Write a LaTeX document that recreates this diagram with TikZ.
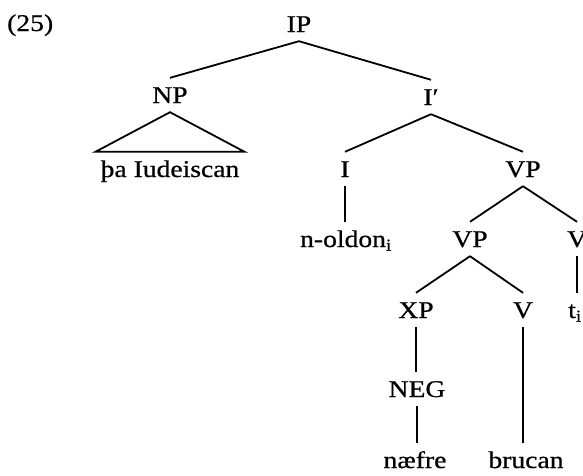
\documentclass[tikz,border=0pt]{standalone}
\usepackage{fontspec}
\setmainfont{Liberation Serif}[FakeStretch=1.15, FakeBold=0.7]
\usepackage{tikz}

\begin{document}
\begin{tikzpicture}[x=1pt,y=1pt]
\tikzstyle{every node}+=[inner sep=0pt, font=\fontsize{24}{28}\selectfont]
\tikzstyle{cat}=[anchor=base, text height=16pt, text depth=0pt, inner ysep=9pt]
\tikzstyle{branch}=[black, line width=1.8pt]
\useasboundingbox (0,0) rectangle (583,-475);
\node [anchor=base west] (num) at (7,-31) {(25)};
\node [cat] (ip) at (299,-32) {IP};
\node [cat] (np) at (170,-103) {NP};
\node [cat, inner xsep=5pt] (tha) at (170,-177) {þa Iudeiscan};
\node [cat] (ibar) at (431,-105) {I′};
\node [cat] (i) at (345,-177) {I};
\node [cat] (noldon) at (346,-247) {n-oldon\textsubscript{i}};
\node [cat] (vp) at (523,-177) {VP};
\node [cat] (vpb) at (470,-247) {VP};
\node [cat] (vr) at (577,-247) {V};
\node [cat] (tr) at (575,-318) {t\textsubscript{i}};
\node [cat] (xp) at (416,-318) {XP};
\node [cat] (v) at (523,-318) {V};
\node [cat] (neg) at (417,-397) {NEG};
\node [cat] (naefre) at (415,-468) {næfre};
\node [cat] (brucan) at (526,-468) {brucan};
\draw [branch] (ip.south) -- (np.north);
\draw [branch] (ip.south) -- (ibar.north);
\draw [branch] (np.south) -- (tha.north west) -- (tha.north east) -- cycle;
\draw [branch] (ibar.south) -- (i.north);
\draw [branch] (ibar.south) -- (vp.north);
\draw [branch] (i.south) -- (i.south |- noldon.north);
\draw [branch] (vp.south) -- (vpb.north);
\draw [branch] (vp.south) -- (vr.north);
\draw [branch] (vr.south) -- (vr.south |- tr.north);
\draw [branch] (vpb.south) -- (xp.north);
\draw [branch] (vpb.south) -- (v.north);
\draw [branch] (xp.south) -- (xp.south |- neg.north);
\draw [branch] (neg.south) -- (neg.south |- naefre.north);
\draw [branch] (v.south) -- (v.south |- brucan.north);
\end{tikzpicture}
\end{document}
